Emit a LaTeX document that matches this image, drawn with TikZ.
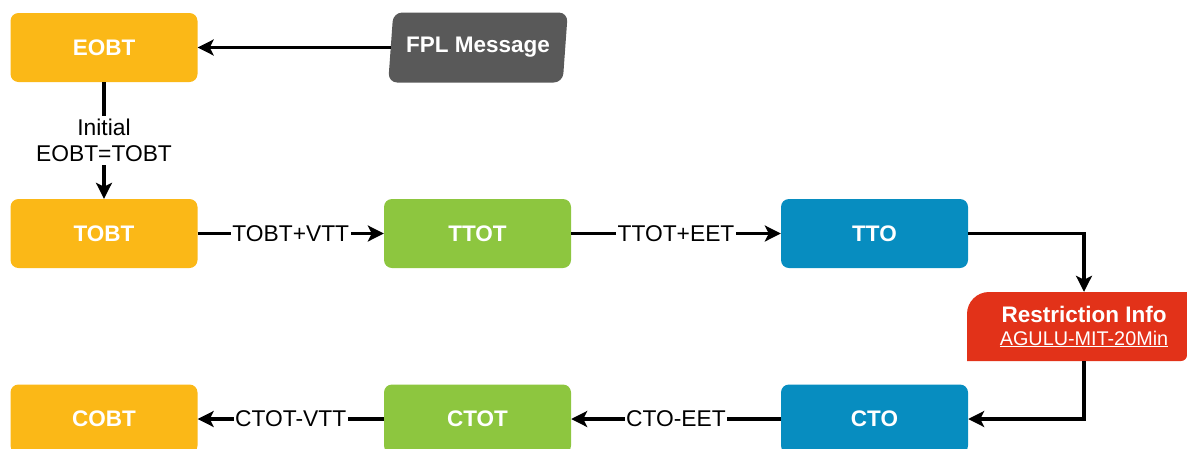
\documentclass[tikz,border=0pt]{standalone}
\usepackage{fontspec}
\setmainfont{Liberation Sans}
\usetikzlibrary{arrows.meta,shapes.geometric}
\definecolor{cOrange}{HTML}{FBB817}
\definecolor{cGreen}{HTML}{8DC63F}
\definecolor{cBlue}{HTML}{078DC0}
\definecolor{cGray}{HTML}{595959}
\definecolor{cRed}{HTML}{E23219}
\tikzset{
  box/.style={rectangle, rounded corners=8pt, minimum width=187pt, minimum height=69pt, inner sep=0pt,
    text=white, font=\fontsize{22.5}{26}\selectfont\bfseries},
  obox/.style={box, fill=cOrange},
  gbox/.style={box, fill=cGreen},
  bbox/.style={box, fill=cBlue},
  arr/.style={line width=3.6pt, -{Stealth[length=16pt,width=16pt,inset=4pt]}},
  lbl/.style={fill=white, inner xsep=1.5pt, inner ysep=1pt, text=black, font=\fontsize{22.8}{26}\selectfont}
}
\begin{document}
\begin{tikzpicture}[x=1pt,y=-1pt]
\useasboundingbox (0,0) rectangle (1187,448);
\clip (0,0) rectangle (1187,448);
% nodes
\node[obox] (eobt) at (104,47.5) {EOBT};
\node[obox] (tobt) at (104,233.5) {TOBT};
\node[gbox] (ttot) at (477.5,233.5) {TTOT};
\node[bbox] (tto) at (874.5,233.5) {TTO};
\node[bbox] (cto) at (874.5,419) {CTO};
\node[gbox] (ctot) at (477.5,419) {CTOT};
\node[obox] (cobt) at (104,419) {COBT};
\node[trapezium, trapezium left angle=78, trapezium right angle=102, trapezium stretches=true,
      minimum width=180pt, minimum height=70pt, inner sep=0pt, rounded corners=9pt,
      fill=cGray, text=white, font=\fontsize{22.5}{26}\selectfont\bfseries] (fpl) at (478,47.5) {FPL Message};
% restriction info
\fill[cRed] (967,361) [rounded corners=22pt] -- (967,292) [sharp corners] -- (1187,292)
  [rounded corners=6pt] -- (1187,361) [sharp corners] -- cycle;
\node[inner sep=0pt, minimum width=2pt, minimum height=69pt, align=center, text=white,
      font=\fontsize{22.5}{24}\selectfont] (restr) at (1084,326.5)
  {\textbf{Restriction Info}\\[-1pt]{\fontsize{19.8}{24}\selectfont\underline{AGULU-MIT-20Min}}};
% connectors
\draw[arr] (fpl.west) -- (fpl.west -| eobt.east);
\draw[arr] (eobt) -- node[lbl, align=center, inner ysep=3pt]{Initial\\EOBT=TOBT} (tobt);
\draw[arr] (tobt) -- node[lbl]{TOBT+VTT} (ttot);
\draw[arr] (ttot) -- node[lbl]{TTOT+EET} (tto);
\draw[arr] (tto.east) -| (restr.north);
\draw[arr] (restr.south) |- (cto.east);
\draw[arr] (cto) -- node[lbl]{CTO-EET} (ctot);
\draw[arr] (ctot) -- node[lbl]{CTOT-VTT} (cobt);
\end{tikzpicture}
\end{document}
